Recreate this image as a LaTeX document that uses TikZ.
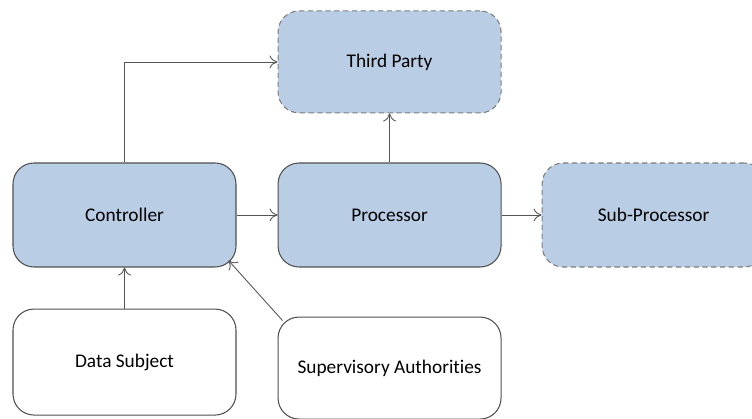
\documentclass[tikz,border=0pt]{standalone}
\usepackage{fontspec}
\setmainfont{Carlito}[Ligatures=NoCommon]
\usetikzlibrary{arrows.meta,positioning,calc}
\definecolor{roleblue}{RGB}{185,205,229}
\definecolor{roleedge}{RGB}{80,80,80}
\definecolor{dashedge}{RGB}{125,125,125}
\definecolor{arrgray}{RGB}{85,85,85}

\begin{document}
\begin{tikzpicture}[
  role/.style={draw=roleedge, fill=roleblue, rounded corners=0.42cm, align=center, minimum width=4.46cm, minimum height=2.08cm, font=\fontsize{11}{13}\selectfont, line width=0.6pt},
  party/.style={role, draw=dashedge, dash pattern=on 3pt off 2pt},
  outside/.style={role, fill=white},
  arr/.style={-{To[length=1.6mm,width=2.6mm]}, draw=arrgray, line width=0.5pt}]
\useasboundingbox (0,0) rectangle (15.04,-8.38);
\node[role] (ctrl) at (2.49,-4.30) {Controller};
\node[role, right=0.82cm of ctrl] (proc) {Processor};
\node[party, right=0.8cm of proc] (sub) {Sub-Processor};
\node[party, above=0.98cm of proc, minimum height=2.04cm] (third) {Third Party};
\node[outside, below=0.82cm of ctrl, minimum height=2.12cm] (subject) {Data Subject};
\node[outside, below=0.98cm of proc, minimum height=2.04cm] (super) {Supervisory Authorities};
\draw[arr] (ctrl.north) |- (third.west);
\draw[arr] (proc) -- (third);
\draw[arr] (ctrl) -- (proc); \draw[arr] (proc) -- (sub);
\draw[arr] (subject) -- (ctrl);
\draw[arr] ([xshift=0.1cm,yshift=-0.08cm]super.north west) -- ([xshift=-0.16cm,yshift=0.14cm]ctrl.south east);
\end{tikzpicture}
\end{document}
